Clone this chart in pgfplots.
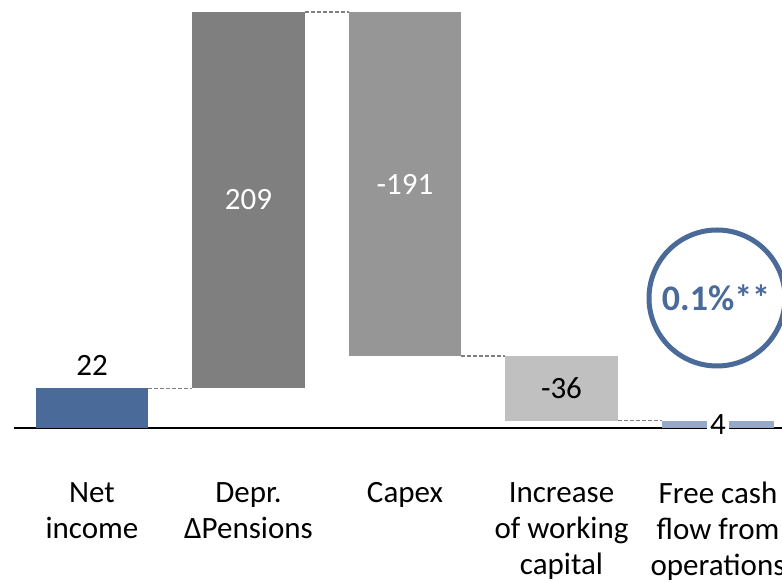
\documentclass[border=0pt]{standalone}
\usepackage{pgfplots}
\pgfplotsset{compat=1.18}
\usepackage{fontspec}
\setmainfont{Carlito}

\definecolor{netblue}{HTML}{4A6A99}
\definecolor{deprgray}{HTML}{7F7F7F}
\definecolor{capexgray}{HTML}{969696}
\definecolor{wcgray}{HTML}{C0C0C0}
\definecolor{fcfblue}{HTML}{95A9CB}
\definecolor{connector}{HTML}{808080}

\pgfplotsset{
  bridge/.style={
    at={(13.75pt,155pt)}, anchor=south west,
    scale only axis, width=782.5pt, height=416pt,
    xmin=-0.5, xmax=4.5, ymin=0, ymax=231,
    clip=false,
  },
}
\tikzset{vallabel/.style={font=\fontsize{31}{37}\selectfont, inner sep=2pt}}

\begin{document}
\begin{tikzpicture}[x=1pt,y=1pt]
\useasboundingbox (0,0) rectangle (782,583);
\clip (0,0) rectangle (782,583);

% dashed connectors between the bars
\begin{axis}[bridge, axis lines=none]
  \addplot[connector, line width=1.4pt, dash pattern=on 4pt off 2pt] coordinates {(0.358,22) (0.642,22)};
  \addplot[connector, line width=1.4pt, dash pattern=on 4pt off 2pt] coordinates {(1.358,231) (1.642,231)};
  \addplot[connector, line width=1.4pt, dash pattern=on 4pt off 2pt] coordinates {(2.358,40) (2.642,40)};
  \addplot[connector, line width=1.4pt, dash pattern=on 4pt off 2pt] coordinates {(3.358,4) (3.642,4)};
\end{axis}

% waterfall bars
\begin{axis}[bridge,
  ybar stacked, bar width=0.716,
  hide y axis,
  axis x line*=bottom,
  x axis line style={-, line width=2pt, black},
  major tick length=0pt,
  xtick={0,1,2,3,4},
  xticklabels={{Net\\income},{Depr.\\ΔPensions},{Capex},{Increase\\of working\\capital},{Free cash\\flow from\\operations}},
  xticklabel style={font=\fontsize{31}{36}\selectfont, align=center, inner sep=0pt, anchor=north, yshift=-54pt},
]
  % invisible base of each floating bar
  \addplot[draw=none, fill=none] coordinates {(0,0) (1,22) (2,40) (3,4) (4,0)};
  \addplot[draw=none, fill=netblue]   coordinates {(0,22) (1,0) (2,0) (3,0) (4,0)};
  \addplot[draw=none, fill=deprgray]  coordinates {(0,0) (1,209) (2,0) (3,0) (4,0)};
  \addplot[draw=none, fill=capexgray] coordinates {(0,0) (1,0) (2,191) (3,0) (4,0)};
  \addplot[draw=none, fill=wcgray]    coordinates {(0,0) (1,0) (2,0) (3,36) (4,0)};
  \addplot[draw=none, fill=fcfblue]   coordinates {(0,0) (1,0) (2,0) (3,0) (4,4)};
\end{axis}

% value labels on top of the bars
\begin{axis}[bridge, axis lines=none]
  \node[vallabel] at (axis cs:0,35) {22};
  \node[vallabel, text=white] at (axis cs:1,127) {209};
  \node[vallabel, text=white] at (axis cs:2,135) {-191};
  \node[vallabel] at (axis cs:3,22) {-36};
  \node[vallabel, fill=white, inner sep=3pt] at (axis cs:4,2) {4};
\end{axis}

% highlight of the cash-flow margin
\draw[netblue, line width=5pt] (717,285) circle[radius=68];
\node[netblue, font=\fontsize{36}{40}\selectfont\bfseries] at (716,285) {0.1\%**};
\end{tikzpicture}
\end{document}
